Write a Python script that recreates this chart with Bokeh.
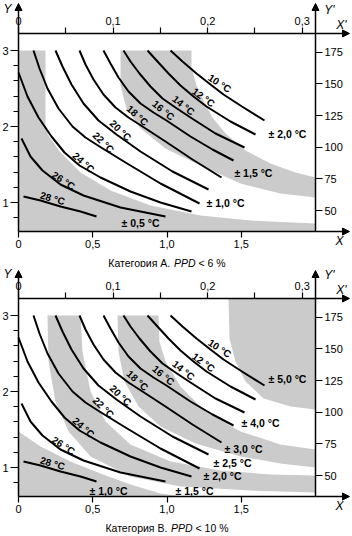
from bokeh.plotting import figure
from bokeh.models import Range1d, LinearAxis, FixedTicker, Label, Arrow, NormalHead, ColumnDataSource
from bokeh.layouts import column
from bokeh.embed import file_html
from bokeh.resources import INLINE
from bokeh.core.properties import value

# ---------------- data ----------------
X_MIN, X_MAX = 0.0, 2.0          # clo
Y_MIN, Y_MAX = 0.618, 3.224      # met
XP_MIN, XP_MAX = 0.0, 0.314      # m2K/W (same span as X)
YP_MIN, YP_MAX = 33.4, 189.8     # W/m2 (same span as Y)

X_TICKS = [0, 0.5, 1.0, 1.5]
X_TICK_LABELS = ["0", "0,5", "1,0", "1,5"]
Y_TICKS = [1, 2, 3]
Y_MINOR = [0.8, 1.2, 1.4, 1.6, 1.8, 2.2, 2.4, 2.6, 2.8]
XP_TICKS = [0, 0.1, 0.2, 0.3]
XP_TICK_LABELS = ["0", "0,1", "0,2", "0,3"]
XP_MINOR = [0.05, 0.15, 0.25]
YP_TICKS = [50, 75, 100, 125, 150, 175]

# optimal operative temperature curves
CURVE_T = ["10 °C", "12 °C", "14 °C", "16 °C", "18 °C", "20 °C", "22 °C", "24 °C", "26 °C", "28 °C"]
CURVE_X = [
    [1.0236, 1.1044, 1.1987, 1.2929, 1.3805, 1.5152, 1.6566],
    [0.8687, 0.9360, 1.0101, 1.0909, 1.1785, 1.2660, 1.4276, 1.5960],
    [0.7071, 0.7542, 0.8148, 0.8889, 0.9697, 1.0572, 1.1582, 1.3266, 1.5219],
    [0.5724, 0.6195, 0.6734, 0.7407, 0.8215, 0.9091, 0.9966, 1.1582, 1.3064, 1.4478],
    [0.4108, 0.4512, 0.5051, 0.5724, 0.6532, 0.7407, 0.8350, 0.9899, 1.1717, 1.3670],
    [0.2492, 0.2963, 0.3569, 0.4377, 0.5387, 0.6599, 0.8215, 1.0370, 1.2795],
    [0.1010, 0.1414, 0.1953, 0.2694, 0.3636, 0.4512, 0.5455, 0.7205, 0.9562, 1.2189],
    [0.0000, 0.0606, 0.1347, 0.2222, 0.3098, 0.4108, 0.5522, 0.7542, 0.9562, 1.1650],
    [0.0202, 0.0808, 0.1616, 0.2828, 0.4377, 0.6869, 0.9899],
    [0.0337, 0.1481, 0.2828, 0.4175, 0.5253],
]
CURVE_Y = [
    [3.0, 2.8553, 2.6974, 2.5526, 2.4211, 2.2500, 2.0789],
    [3.0, 2.8553, 2.6974, 2.5395, 2.3947, 2.2632, 2.0658, 1.8947],
    [3.0, 2.8553, 2.6974, 2.5263, 2.3684, 2.2500, 2.1184, 1.9079, 1.7237],
    [3.0, 2.8289, 2.6447, 2.4605, 2.3026, 2.1842, 2.0789, 1.8684, 1.6974, 1.5526],
    [3.0, 2.8158, 2.6184, 2.4211, 2.2500, 2.1184, 2.0000, 1.8026, 1.5658, 1.3289],
    [3.0, 2.7895, 2.5526, 2.3026, 2.0789, 1.8947, 1.6711, 1.4079, 1.1711],
    [3.0, 2.7632, 2.5000, 2.2368, 2.0000, 1.8553, 1.7368, 1.5263, 1.2500, 0.9868],
    [2.7105, 2.3947, 2.1184, 1.8684, 1.6579, 1.4868, 1.3289, 1.1447, 1.0000, 0.8816],
    [1.8421, 1.6053, 1.4211, 1.2368, 1.0921, 0.9342, 0.8158],
    [1.0789, 1.0263, 0.9474, 0.8816, 0.8158],
]
T_LABEL_X = [1.354, 1.246, 1.111, 0.976, 0.801, 0.687, 0.572, 0.438, 0.303, 0.229]
T_LABEL_Y = [2.566, 2.382, 2.276, 2.211, 2.145, 1.947, 1.789, 1.526, 1.289, 1.053]
T_LABEL_ANGLE = [-33, -36, -39, -40, -42, -44, -45, -42, -33, -16]

# Category A band boundaries
A_B1_X = [0.182, 0.182, 0.202, 0.283, 0.418, 0.620, 0.889, 1.226, 1.562, 2.0]
A_B1_Y = [3.0, 2.013, 1.882, 1.658, 1.395, 1.158, 0.961, 0.829, 0.763, 0.724]
A_B2_X = [0.687, 0.687, 0.727, 0.822, 0.990, 1.226, 1.495, 1.764, 2.0]
A_B2_Y = [3.0, 2.539, 2.237, 1.974, 1.711, 1.487, 1.250, 1.118, 1.066]
A_B3_X = [1.165, 1.165, 1.199, 1.246, 1.306, 1.394, 1.529, 1.697, 1.865, 2.0]
A_B3_Y = [3.0, 2.776, 2.539, 2.342, 2.118, 1.908, 1.684, 1.513, 1.395, 1.329]
A_TOL = ["± 0,5 °C", "± 1,0 °C", "± 1,5 °C", "± 2,0 °C"]
A_TOL_X = [0.822, 1.394, 1.582, 1.811]
A_TOL_Y = [0.724, 0.987, 1.382, 1.895]

# Category B band boundaries
B_C1_X = [0.0, 0.148, 0.350, 0.552, 0.754, 0.956, 1.110]
B_C1_Y = [1.474, 1.276, 1.079, 0.921, 0.776, 0.658, 0.618]
B_C2LO_X = [0.195, 0.202, 0.249, 0.337, 0.485, 0.754, 1.091, 1.562, 2.0]
B_C2LO_Y = [3.0, 2.395, 1.868, 1.474, 1.145, 0.882, 0.750, 0.697, 0.671]
B_C2HI_X = [0.418, 0.431, 0.485, 0.586, 0.754, 1.024, 1.360, 1.697, 2.0]
B_C2HI_Y = [3.0, 2.526, 2.0, 1.605, 1.303, 1.079, 0.961, 0.908, 0.895]
B_C3LO_X = [0.667, 0.673, 0.714, 0.808, 0.956, 1.192, 1.495, 1.764, 2.0]
B_C3LO_Y = [3.0, 2.526, 2.132, 1.803, 1.539, 1.316, 1.145, 1.053, 1.0]
B_C3HI_X = [0.943, 0.949, 0.990, 1.091, 1.259, 1.495, 1.764, 2.0]
B_C3HI_Y = [3.0, 2.658, 2.395, 2.066, 1.737, 1.474, 1.303, 1.237]
B_C5_X = [1.414, 1.421, 1.461, 1.529, 1.650, 1.832, 2.0]
B_C5_Y = [3.224, 2.697, 2.395, 2.132, 1.908, 1.803, 1.763]
B_TOL = ["± 1,0 °C", "± 1,5 °C", "± 2,0 °C", "± 2,5 °C", "± 3,0 °C", "± 4,0 °C", "± 5,0 °C"]
B_TOL_X = [0.606, 1.185, 1.374, 1.441, 1.515, 1.630, 1.811]
B_TOL_Y = [0.697, 0.697, 0.882, 1.053, 1.250, 1.592, 2.158]

CAPTION_A = ("Категория A.", "PPD", "< 6 %")
CAPTION_B = ("Категория B.", "PPD", "< 10 %")

# ---------------- layout / styling ----------------
FONT = "Liberation Sans"
GRAY = "#cbcbcb"
W = 352
PX_X0, PX_PER_X = 18.0, 148.5     # pixel of X=0, pixels per X unit
PY_Y1, PX_PER_Y = 202.0, 76.0     # pixel of Y=1, pixels per Y unit
CAP_SIZE = 10.5


def xpx(px):
    return (px - PX_X0) / PX_PER_X


def ypx(py):
    return 1.0 + (PY_Y1 - py) / PX_PER_Y


def lin(v, a0, a1, b0, b1):
    return b0 + (v - a0) * (b1 - b0) / (a1 - a0)


def make_panel(H, shift, bands, tol, tol_x, tol_y, caption, cap_widths):
    x0, x1 = xpx(0), xpx(W)
    y0, y1 = ypx(shift + H), ypx(shift)
    p = figure(width=W, height=H, output_backend="svg", toolbar_location=None,
               x_range=Range1d(x0, x1), y_range=Range1d(y0, y1),
               x_axis_type=None, y_axis_type=None, title=None,
               min_border=0, min_border_left=0, min_border_right=0,
               min_border_top=0, min_border_bottom=0)
    p.extra_x_ranges = {"xp": Range1d(lin(x0, X_MIN, X_MAX, XP_MIN, XP_MAX),
                                      lin(x1, X_MIN, X_MAX, XP_MIN, XP_MAX))}
    p.extra_y_ranges = {"yp": Range1d(lin(y0, Y_MIN, Y_MAX, YP_MIN, YP_MAX),
                                      lin(y1, Y_MIN, Y_MAX, YP_MIN, YP_MAX))}
    p.grid.visible = False
    p.outline_line_color = None
    p.background_fill_color = "white"
    p.border_fill_color = "white"

    for xs, ys in bands:
        p.patch(xs, ys, fill_color=GRAY, line_color=None)

    for xs, ys in zip(CURVE_X, CURVE_Y):
        p.line(xs, ys, line_color="black", line_width=2, line_join="round")

    src = ColumnDataSource(dict(x=T_LABEL_X, y=T_LABEL_Y, t=CURVE_T, a=T_LABEL_ANGLE))
    p.text(x="x", y="y", text="t", angle="a", angle_units="deg", source=src,
           text_align="center", text_baseline="middle", text_font=value(FONT),
           text_font_size="10px", text_font_style="bold", text_color="black")
    src2 = ColumnDataSource(dict(x=tol_x, y=tol_y, t=tol))
    p.text(x="x", y="y", text="t", source=src2, text_align="center", text_baseline="middle",
           text_font=value(FONT), text_font_size="10.5px", text_font_style="bold", text_color="black")

    def style(ax):
        ax.axis_line_width = 1.5
        ax.axis_line_color = "black"
        ax.major_tick_line_width = 1.2
        ax.minor_tick_line_width = 1.2
        ax.major_tick_in = 0
        ax.minor_tick_in = 0
        ax.major_label_text_font = FONT
        ax.major_label_text_font_size = "11px"
        ax.major_label_text_color = "black"
        ax.major_label_standoff = 2

    xb = LinearAxis(fixed_location=Y_MIN, bounds=(X_MIN, X_MAX),
                    ticker=FixedTicker(ticks=X_TICKS, minor_ticks=[]))
    xb.major_label_overrides = dict(zip(X_TICKS, X_TICK_LABELS))
    style(xb)
    xb.major_tick_out = 6
    xb.minor_tick_out = 0
    p.add_layout(xb, "below")

    yl = LinearAxis(fixed_location=X_MIN, bounds=(Y_MIN, Y_MAX),
                    ticker=FixedTicker(ticks=Y_TICKS, minor_ticks=Y_MINOR))
    style(yl)
    yl.major_tick_out = 8
    yl.minor_tick_out = 5
    p.add_layout(yl, "left")

    xt = LinearAxis(x_range_name="xp", fixed_location=Y_MAX, bounds=(XP_MIN, XP_MAX),
                    ticker=FixedTicker(ticks=XP_TICKS, minor_ticks=XP_MINOR))
    xt.major_label_overrides = dict(zip(XP_TICKS, XP_TICK_LABELS))
    style(xt)
    xt.major_tick_out = 6
    xt.minor_tick_out = 6
    p.add_layout(xt, "above")

    yr = LinearAxis(y_range_name="yp", fixed_location=X_MAX, bounds=(YP_MIN, YP_MAX),
                    ticker=FixedTicker(ticks=YP_TICKS, minor_ticks=[]))
    style(yr)
    yr.major_tick_out = 7
    yr.minor_tick_out = 0
    p.add_layout(yr, "right")

    x_tip, y_tip = xpx(349), ypx(shift + 3 if shift else 3)
    head = dict(size=7, fill_color="black", line_color="black", line_width=1)
    for xs, ys, xe, ye in [(X_MIN, Y_MAX, X_MIN, y_tip), (X_MAX, Y_MAX, X_MAX, y_tip),
                           (X_MAX, Y_MAX, x_tip, Y_MAX), (X_MAX, Y_MIN, x_tip, Y_MIN)]:
        p.add_layout(Arrow(end=NormalHead(**head), x_start=xs, y_start=ys, x_end=xe, y_end=ye,
                           line_width=1.5, line_color="black"))

    for txt, px, py in [("Y", 7, 8), ("Y'", 329, 9), ("X'", 341, 24), ("X", 339, 240)]:
        p.add_layout(Label(x=xpx(px), y=ypx(py), text=txt, text_font=FONT, text_font_size="12px",
                           text_font_style="italic", text_align="center", text_baseline="middle",
                           text_color="black"))

    space = 0.278 * CAP_SIZE
    total = sum(cap_widths) + 2 * space
    off = -total / 2
    cx, cy = xpx(166.5), ypx(262)
    for part, w in zip(caption, cap_widths):
        p.add_layout(Label(x=cx, y=cy, x_offset=off, text=part, text_font=FONT,
                           text_font_size=f"{CAP_SIZE}px", text_align="left", text_baseline="middle",
                           text_color="black",
                           text_font_style="italic" if part == "PPD" else "normal"))
        off += w + space
    return p


bands_a = [
    ([X_MIN, X_MIN] + A_B1_X + [X_MAX], [Y_MIN, 3.0] + A_B1_Y + [Y_MIN]),
    (A_B2_X + A_B3_X[::-1], A_B2_Y + A_B3_Y[::-1]),
]
bands_b = [
    ([X_MIN] + B_C1_X + [X_MIN], [Y_MIN] + B_C1_Y + [Y_MIN]),
    (B_C2LO_X + B_C2HI_X[::-1], B_C2LO_Y + B_C2HI_Y[::-1]),
    (B_C3LO_X + B_C3HI_X[::-1], B_C3LO_Y + B_C3HI_Y[::-1]),
    (B_C5_X + [X_MAX], B_C5_Y + [Y_MAX]),
]

pa = make_panel(267, 0, bands_a, A_TOL, A_TOL_X, A_TOL_Y, CAPTION_A, [62.7, 21.6, 27.2])
pb = make_panel(269, 2, bands_b, B_TOL, B_TOL_X, B_TOL_Y, CAPTION_B, [62.7, 21.6, 33.0])

layout = column(pa, pb, spacing=0)
open("out.html", "w").write(file_html(layout, INLINE))
